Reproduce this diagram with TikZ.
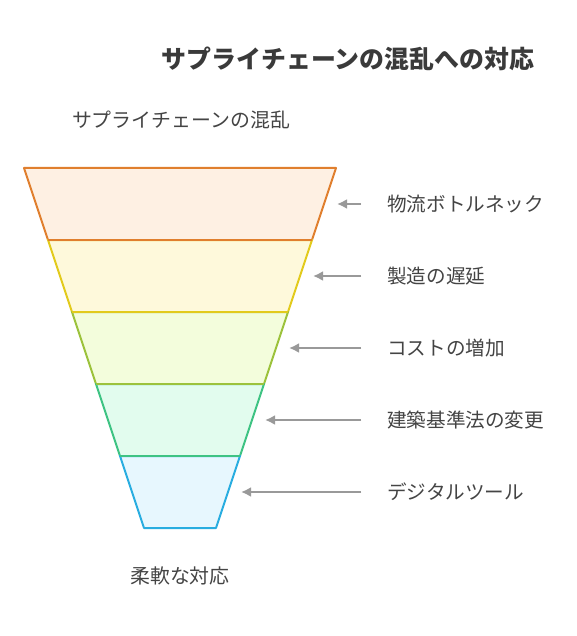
\documentclass[tikz,border=0pt]{standalone}
\usepackage{fontspec}
\setmainfont{Noto Sans CJK JP}
\usetikzlibrary{arrows.meta}
\definecolor{txt}{HTML}{444444}
\definecolor{arr}{HTML}{999999}
\definecolor{lineA}{HTML}{E07F2E}
\definecolor{fillA}{HTML}{FEF0E3}
\definecolor{lineB}{HTML}{E2CA1C}
\definecolor{fillB}{HTML}{FEF9DB}
\definecolor{lineC}{HTML}{9CC23C}
\definecolor{fillC}{HTML}{F3FDDC}
\definecolor{lineD}{HTML}{3EC383}
\definecolor{fillD}{HTML}{E2FCEE}
\definecolor{lineE}{HTML}{29ADE0}
\definecolor{fillE}{HTML}{E7F7FE}
\tikzset{
  label/.style={anchor=west, text=txt, font=\fontsize{19.6}{22}\selectfont, inner sep=0pt},
  pointer/.style={-{Latex[length=10pt,width=10pt]}, draw=arr, fill=arr, line width=2pt},
  level/.style={line width=2pt, line join=round}
}
\begin{document}
\begin{tikzpicture}[x=1pt,y=-1pt]
        \useasboundingbox (0,0) rectangle (577,636);
        \node[text=txt!85!black, font=\fontsize{24.9}{28}\selectfont\bfseries, inner sep=0pt] at (348,59) (title) {サプライチェーンの混乱への対応};
        \node[text=txt, font=\fontsize{19.9}{22}\selectfont, inner sep=0pt] at (181,120) (top) {サプライチェーンの混乱};
        \node[text=txt, font=\fontsize{19.9}{22}\selectfont, inner sep=0pt] at (180,576) (bottom) {柔軟な対応};
        % funnel
        \filldraw[level, draw=lineA, fill=fillA] (24,168) -- (336,168) -- (312,240) -- (48,240) -- cycle;
        \filldraw[level, draw=lineB, fill=fillB] (48,240) -- (312,240) -- (288,312) -- (72,312) -- cycle;
        \filldraw[level, draw=lineC, fill=fillC] (72,312) -- (288,312) -- (264,384) -- (96,384) -- cycle;
        \filldraw[level, draw=lineD, fill=fillD] (96,384) -- (264,384) -- (240,456) -- (120,456) -- cycle;
        \filldraw[level, draw=lineE, fill=fillE] (120,456) -- (240,456) -- (216,528) -- (144,528) -- cycle;
        \draw[level, draw=lineA] (48,240) -- (312,240);
        \draw[level, draw=lineB] (72,312) -- (288,312);
        \draw[level, draw=lineC] (96,384) -- (264,384);
        \draw[level, draw=lineD] (120,456) -- (240,456);
        % labels
        \node[label] at (387,204) (L1) {物流ボトルネック};
        \node[label] at (387,276) (L2) {製造の遅延};
        \node[label] at (387,348) (L3) {コストの増加};
        \node[label] at (387,420) (L4) {建築基準法の変更};
        \node[label] at (387,492) (L5) {デジタルツール};
        \coordinate (T1) at (361,204);
        \coordinate (T2) at (361,276);
        \coordinate (T3) at (361,348);
        \coordinate (T4) at (361,420);
        \coordinate (T5) at (361,492);
        \coordinate (H1) at (337,204);
        \coordinate (H2) at (313,276);
        \coordinate (H3) at (289,348);
        \coordinate (H4) at (265,420);
        \coordinate (H5) at (241,492);
        \draw[pointer] (T1) -- (H1);
        \draw[pointer] (T2) -- (H2);
        \draw[pointer] (T3) -- (H3);
        \draw[pointer] (T4) -- (H4);
        \draw[pointer] (T5) -- (H5);
      \end{tikzpicture}
\end{document}
